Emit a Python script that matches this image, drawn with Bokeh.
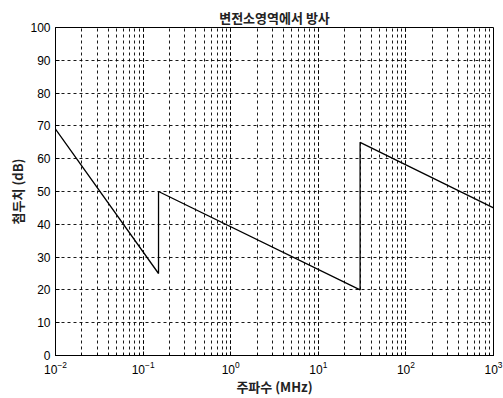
from bokeh.plotting import figure
from bokeh.embed import file_html
from bokeh.resources import INLINE
from bokeh.models import Range1d, FixedTicker

freq_mhz = [0.01, 0.15, 0.15, 30, 30, 1000]
level_db = [69, 25, 50, 20, 65, 45]
y_ticks = [0, 10, 20, 30, 40, 50, 60, 70, 80, 90, 100]
title_text = "변전소영역에서 방사"
x_label = "주파수 (MHz)"
y_label = "첨두치 (dB)"

p = figure(width=503, height=398, x_axis_type="log", output_backend="svg",
           toolbar_location=None, title=title_text,
           x_range=Range1d(0.01, 1000), y_range=Range1d(0, 100))
p.min_border_left = 55
p.min_border_right = 10
p.min_border_top = 27
p.min_border_bottom = 43

p.title.align = "center"
p.title.text_font = "Noto Sans CJK KR"
p.title.text_font_size = "13px"
p.title.text_font_style = "bold"
p.title.text_color = "#222222"
p.title.offset = 0
p.title.standoff = 2

p.line(freq_mhz, level_db, line_color="black", line_width=1.3)

p.yaxis.ticker = FixedTicker(ticks=y_ticks)
for ax in (p.xaxis[0], p.yaxis[0]):
    ax.major_tick_in = 4
    ax.major_tick_out = 0
    ax.minor_tick_in = 2
    ax.minor_tick_out = 0
    ax.axis_line_color = "black"
    ax.major_tick_line_color = "black"
    ax.minor_tick_line_color = "black"
    ax.major_label_text_font = "Liberation Sans"
    ax.major_label_text_font_size = "12px"
    ax.major_label_text_color = "black"
    ax.axis_label_text_font = "Noto Sans CJK KR"
    ax.axis_label_text_font_size = "13px"
    ax.axis_label_text_font_style = "bold"
    ax.axis_label_text_color = "#222222"

p.xaxis.axis_label = x_label
p.yaxis.axis_label = y_label
p.xaxis.axis_label_standoff = 0
p.yaxis.axis_label_standoff = 0
p.yaxis.major_label_standoff = 5

p.outline_line_color = "black"
p.outline_line_width = 1

for g in (p.xgrid, p.ygrid):
    g.grid_line_color = "black"
    g.grid_line_dash = "3 3"
    g.grid_line_width = 1
    g.grid_line_alpha = 0.9
p.xgrid.minor_grid_line_color = "black"
p.xgrid.minor_grid_line_dash = "3 3"
p.xgrid.minor_grid_line_alpha = 0.9

open("out.html", "w").write(file_html(p, INLINE))
